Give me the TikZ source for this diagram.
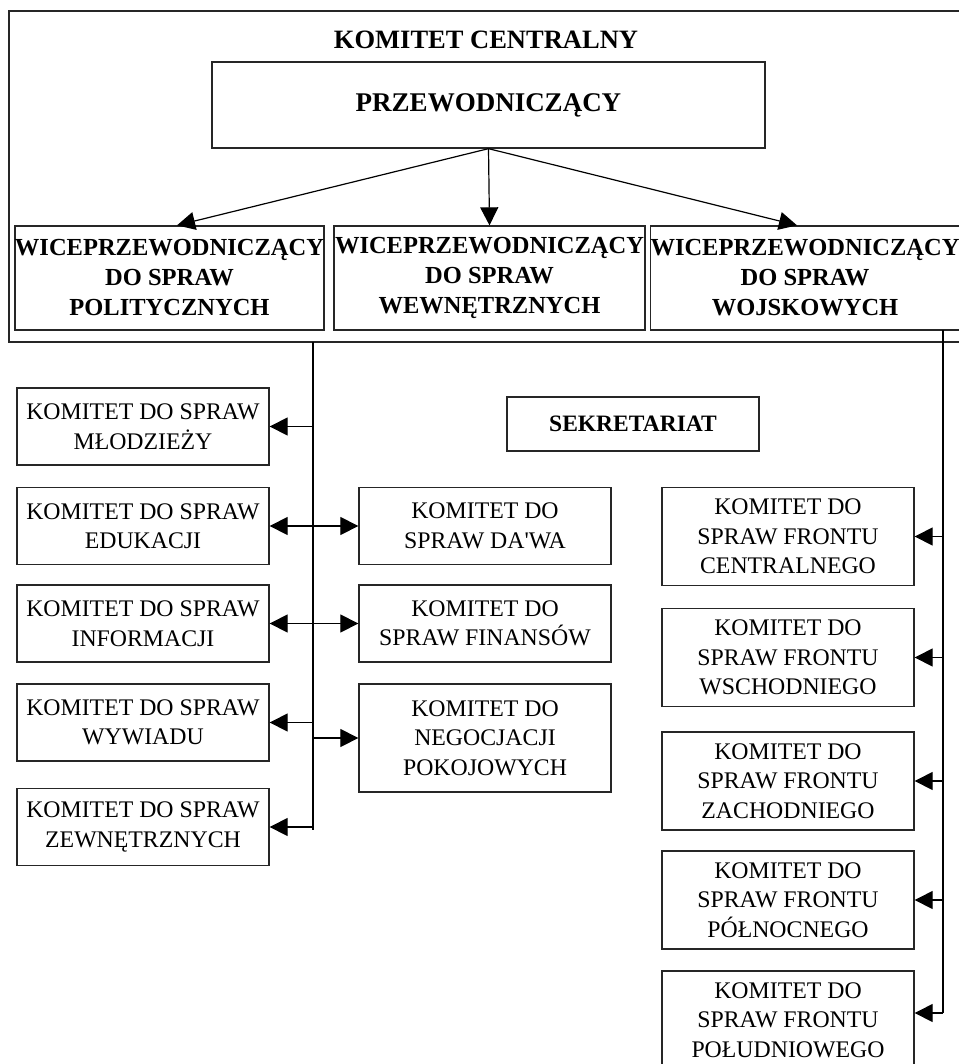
\documentclass[tikz,border=0pt]{standalone}
\usepackage{fontspec}
\setmainfont{Liberation Serif}
\usepackage{tikz}
\usetikzlibrary{arrows.meta}

\begin{document}
\begin{tikzpicture}[x=1pt,y=-1pt,line width=1.2pt,
  box/.style={draw=black!85,line width=1.3pt,align=center,inner sep=0pt,
    font=\fontsize{23.8}{29.5}\selectfont},
  bbox/.style={box,font=\fontsize{24.5}{30}\selectfont\bfseries},
  arr/.style={-{Triangle[length=18pt,width=18pt]}}]
\useasboundingbox (0,0) rectangle (958,1064);

% komitet centralny
\draw[draw=black!85,line width=1.3pt] (9,11) rectangle (990,342);
\node[font=\fontsize{26.5}{30}\selectfont\bfseries] (kc) at (486,40) {KOMITET CENTRALNY};

\node[bbox,font=\fontsize{27}{30}\selectfont\bfseries,minimum width=553pt,minimum height=86pt] (prz) at (488.5,105) {PRZEWODNICZĄCY};

\node[bbox,minimum width=307pt,minimum height=104pt] (vpp) at (169.5,278) {WICEPRZEWODNICZĄCY\\DO SPRAW\\POLITYCZNYCH};
\node[bbox,minimum width=311pt,minimum height=104pt] (vpw) at (489.5,278) {WICEPRZEWODNICZĄCY\\DO SPRAW\\WEWNĘTRZNYCH};
\node[bbox,minimum width=304pt,minimum height=104pt] (vpm) at (805,278) {WICEPRZEWODNICZĄCY\\DO SPRAW\\WOJSKOWYCH};

\draw[arr] (prz.south) -- ([xshift=7.5pt]vpp.north);
\draw[arr] (prz.south) -- (vpw.north);
\draw[arr] (prz.south) -- ([xshift=-8pt]vpm.north);

% linie pionowe
\coordinate (lgora) at (313,342);
\coordinate (ldol) at (313,830);
\coordinate (pgora) at (943,330);
\coordinate (pdol) at (943,1013);
\draw (lgora) -- (ldol);
\draw (pgora) -- (pdol);

\node[bbox,font=\fontsize{23.5}{28}\selectfont\bfseries,minimum width=252pt,minimum height=54pt] (sekr) at (633,424) {SEKRETARIAT};

% lewa kolumna
\node[box,minimum width=252pt,minimum height=77pt] (mlodziez) at (143,426.5) {KOMITET DO SPRAW\\MŁODZIEŻY};
\node[box,minimum width=252pt,minimum height=77pt] (edukacja) at (143,526) {KOMITET DO SPRAW\\EDUKACJI};
\node[box,minimum width=252pt,minimum height=77pt] (informacja) at (143,623.5) {KOMITET DO SPRAW\\INFORMACJI};
\node[box,minimum width=252pt,minimum height=77pt] (wywiad) at (143,722.5) {KOMITET DO SPRAW\\WYWIADU};
\node[box,minimum width=252pt,minimum height=77pt] (zewn) at (143,827) {KOMITET DO SPRAW\\ZEWNĘTRZNYCH};

% srodkowa kolumna
\node[box,minimum width=252pt,minimum height=77pt] (dawa) at (485,526) {KOMITET DO\\SPRAW DA\textquotesingle WA};
\node[box,minimum width=252pt,minimum height=77pt] (finanse) at (485,623.5) {KOMITET DO\\SPRAW FINANSÓW};
\node[box,minimum width=252pt,minimum height=108pt] (negocjacje) at (485,738) {KOMITET DO\\NEGOCJACJI\\POKOJOWYCH};

% prawa kolumna
\node[box,minimum width=252pt,minimum height=98pt] (centr) at (788,536.5) {KOMITET DO\\SPRAW FRONTU\\CENTRALNEGO};
\node[box,minimum width=252pt,minimum height=98pt] (wschod) at (788,657.5) {KOMITET DO\\SPRAW FRONTU\\WSCHODNIEGO};
\node[box,minimum width=252pt,minimum height=98pt] (zachod) at (788,781) {KOMITET DO\\SPRAW FRONTU\\ZACHODNIEGO};
\node[box,minimum width=252pt,minimum height=98pt] (polnoc) at (788,900) {KOMITET DO\\SPRAW FRONTU\\PÓŁNOCNEGO};
\node[box,minimum width=252pt,minimum height=98pt] (poludnie) at (788,1020) {KOMITET DO\\SPRAW FRONTU\\POŁUDNIOWEGO};

% strzalki
\draw[arr] (lgora |- mlodziez.east) -- (mlodziez.east);
\draw[arr] (lgora |- edukacja.east) -- (edukacja.east);
\draw[arr] (lgora |- informacja.east) -- (informacja.east);
\draw[arr] (lgora |- wywiad.east) -- (wywiad.east);
\draw[arr] (lgora |- zewn.east) -- (zewn.east);

\draw[arr] (lgora |- dawa.west) -- (dawa.west);
\draw[arr] (lgora |- finanse.west) -- (finanse.west);
\draw[arr] (lgora |- negocjacje.west) -- (negocjacje.west);

\draw[arr] (pgora |- centr.east) -- (centr.east);
\draw[arr] (pgora |- wschod.east) -- (wschod.east);
\draw[arr] (pgora |- zachod.east) -- (zachod.east);
\draw[arr] (pgora |- polnoc.east) -- (polnoc.east);
\draw[arr] (pdol) -- (pdol -| poludnie.east);

\end{tikzpicture}
\end{document}
